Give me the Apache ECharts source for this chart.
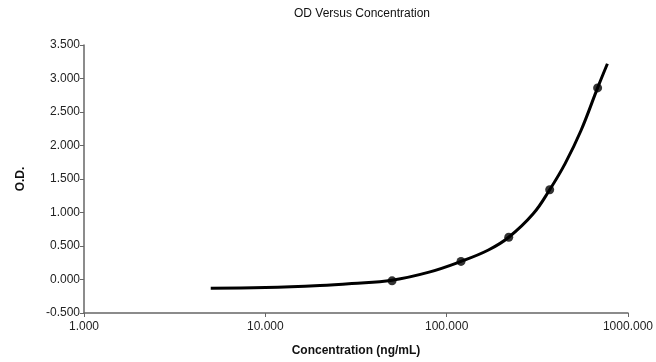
<!DOCTYPE html>
<html>
<head>
<meta charset="utf-8">
<script src="https://cdn.jsdelivr.net/npm/echarts@6/dist/echarts.min.js"></script>
<style>
  html, body { margin: 0; padding: 0; background: #fff; }
  #od-chart { width: 656px; height: 362px; }
</style>
</head>
<body>
<div id="od-chart"></div>
<script>
// standards (measured points)
var stdConc = [50, 120, 220, 370, 680];
var stdOD = [-0.02, 0.27, 0.63, 1.34, 2.86];

// fitted curve
var curveConc = [5, 10, 20, 30, 50, 80, 120, 170, 220, 300, 370, 450, 550, 680, 770];
var curveOD = [-0.13, -0.12, -0.09, -0.06, -0.01, 0.11, 0.27, 0.44, 0.63, 0.98, 1.34, 1.73, 2.22, 2.86, 3.22];

var yTicks = { min: -0.5, max: 3.5, step: 0.5 };
var xTicks = { min: 1, max: 1000 };

var myChart = echarts.init(document.getElementById('od-chart'));

var font = 'Liberation Sans, Arial, sans-serif';
var axisGray = '#666';

var option = {
  animation: false,
  title: {
    text: 'OD Versus Concentration',
    left: 357,
    top: 3,
    textAlign: 'center',
    textStyle: { fontFamily: font, fontSize: 12, fontWeight: 'normal', color: '#111' }
  },
  grid: { left: 84, right: 26, top: 45, bottom: 48 },
  xAxis: {
    type: 'log',
    logBase: 10,
    min: xTicks.min,
    max: xTicks.max,
    name: 'Concentration (ng/mL)',
    nameLocation: 'middle',
    nameGap: 32,
    nameTextStyle: { fontFamily: font, fontSize: 12, fontWeight: 'bold', color: '#111' },
    axisLine: { onZero: false, lineStyle: { color: axisGray, width: 1.5 } },
    axisTick: { show: true, length: 4, lineStyle: { color: axisGray } },
    minorTick: { show: false },
    splitLine: { show: false },
    axisLabel: {
      fontFamily: font, fontSize: 12, color: '#222', margin: 8,
      formatter: function (v) { return Number(v).toFixed(3); }
    }
  },
  yAxis: {
    type: 'value',
    min: yTicks.min,
    max: yTicks.max,
    interval: yTicks.step,
    name: 'O.D.',
    nameLocation: 'middle',
    nameGap: 57,
    nameRotate: 90,
    nameTextStyle: { fontFamily: font, fontSize: 12, fontWeight: 'bold', color: '#111' },
    axisLine: { show: true, onZero: false, lineStyle: { color: axisGray, width: 1.5 } },
    axisTick: { show: true, length: 4, lineStyle: { color: axisGray } },
    splitLine: { show: false },
    axisLabel: {
      fontFamily: font, fontSize: 12, color: '#222', margin: 4,
      formatter: function (v) { return v.toFixed(3); }
    }
  },
  series: [
    {
      name: 'fit',
      type: 'line',
      smooth: 0.4,
      showSymbol: false,
      lineStyle: { color: '#000', width: 3 },
      data: curveConc.map(function (c, i) { return [c, curveOD[i]]; }),
      z: 2
    },
    {
      name: 'standards',
      type: 'scatter',
      symbol: 'circle',
      symbolSize: 9,
      itemStyle: { color: '#000' },
      data: stdConc.map(function (c, i) { return [c, stdOD[i]]; }),
      z: 3
    }
  ]
};

myChart.setOption(option);
</script>
</body>
</html>
